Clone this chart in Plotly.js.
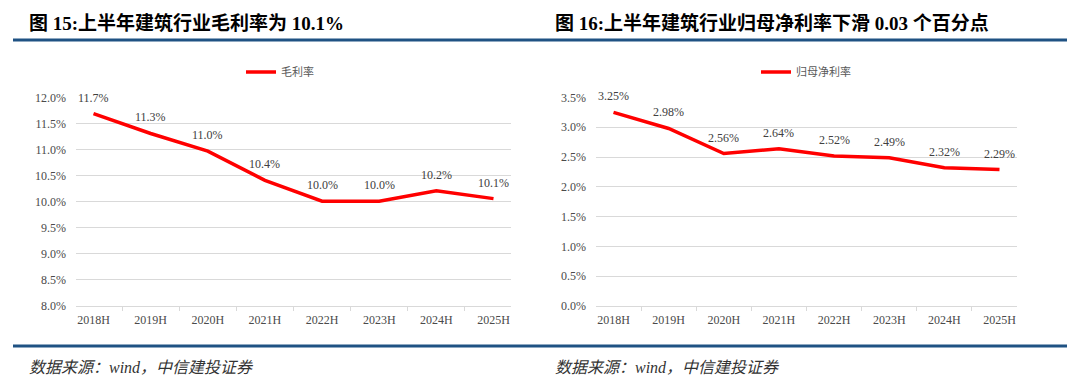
<!DOCTYPE html>
<html>
<head>
<meta charset="utf-8">
<script src="https://cdn.plot.ly/plotly-3.0.1.min.js"></script>
<style>html,body{margin:0;padding:0;background:#fff;}#chart{width:1080px;height:385px;}</style>
</head>
<body>
<div id="chart"></div>
<script>
const categories = ["2018H","2019H","2020H","2021H","2022H","2023H","2024H","2025H"];
const grossMargin = [11.69, 11.31, 10.97, 10.41, 10.01, 10.01, 10.21, 10.06];
const netMargin = [3.25, 2.98, 2.56, 2.64, 2.52, 2.49, 2.32, 2.29];
const seriesNames = ["毛利率", "归母净利率"];
const titles = ["图 15:上半年建筑行业毛利率为 10.1%", "图 16:上半年建筑行业归母净利率下滑 0.03 个百分点"];
const sourceText = "数据来源：wind，中信建投证券";

const W = 1080, H = 385;
const serif = '"Liberation Serif", "Times New Roman", "Noto Sans CJK SC", serif';
const cjk = '"Noto Sans CJK SC", "Liberation Sans", sans-serif';
const gray = '#595959';
const grid = '#d9d9d9';
const blue = '#1F5283';

const yDom = [1 - 306/H, 1 - 97.5/H];

const traces = [
  {x: categories, y: grossMargin, type: 'scatter', mode: 'lines', name: seriesNames[0],
   line: {color: '#FF0000', width: 3.5}, xaxis: 'x', yaxis: 'y', legend: 'legend', hoverinfo: 'none'},
  {x: categories, y: netMargin, type: 'scatter', mode: 'lines', name: seriesNames[1],
   line: {color: '#FF0000', width: 3.5}, xaxis: 'x2', yaxis: 'y2', legend: 'legend2', hoverinfo: 'none'}
];

function xAx(dom, anchor) {
  return {domain: dom, anchor: anchor, type: 'category', showgrid: false, zeroline: false,
    showline: true, linecolor: grid, linewidth: 1, ticks: 'outside', tickson: 'boundaries',
    ticklen: 4, tickcolor: grid, tickwidth: 1, ticklabelstandoff: 3,
    tickfont: {family: serif, size: 12, color: '#4a4a4a'}, fixedrange: true};
}
function yAx(range, anchor) {
  return {domain: yDom, anchor: anchor, range: range, dtick: 0.5, tick0: 0, showgrid: true,
    gridcolor: grid, gridwidth: 1, zeroline: false, showline: false, ticks: '',
    ticksuffix: '%', tickformat: '.1f', ticklabelstandoff: 9,
    tickfont: {family: serif, size: 12, color: '#4a4a4a'}, fixedrange: true};
}

const annotations = [];
grossMargin.forEach((v, i) => annotations.push({x: categories[i], y: v, xref: 'x', yref: 'y',
  text: v.toFixed(1) + '%', showarrow: false, yshift: 16, font: {family: serif, size: 12, color: '#404040'}}));
netMargin.forEach((v, i) => annotations.push({x: categories[i], y: v, xref: 'x2', yref: 'y2',
  text: v.toFixed(2) + '%', showarrow: false, yshift: 16, font: {family: serif, size: 12, color: '#404040'}}));

[27, 553].forEach((px, i) => {
  annotations.push({x: px/W, y: 1 - 23/H, xref: 'paper', yref: 'paper', xanchor: 'left', yanchor: 'middle',
    text: '<b>' + titles[i] + '</b>', showarrow: false, font: {family: serif, size: 19, color: '#000'}});
  annotations.push({x: px/W, y: 1 - 367/H, xref: 'paper', yref: 'paper', xanchor: 'left', yanchor: 'middle',
    text: '<i>' + sourceText + '</i>', showarrow: false, font: {family: serif, size: 16, color: '#333'}});
});

const shapes = [
  {type: 'line', xref: 'paper', yref: 'paper', x0: 13/W, x1: 1067/W, y0: 1 - 40/H, y1: 1 - 40/H, line: {color: blue, width: 3}},
  {type: 'line', xref: 'paper', yref: 'paper', x0: 13/W, x1: 1067/W, y0: 1 - 346/H, y1: 1 - 346/H, line: {color: blue, width: 3}}
];

const legendBase = {orientation: 'h', xanchor: 'center', yanchor: 'middle', y: 1 - 72/H,
  font: {family: cjk, size: 11, color: gray}, bgcolor: 'rgba(0,0,0,0)', itemwidth: 30};

const layout = {
  width: W, height: H, margin: {l: 0, r: 0, t: 0, b: 0},
  paper_bgcolor: '#fff', plot_bgcolor: '#fff', showlegend: true,
  xaxis: xAx([76/W, 511/W], 'y'),
  yaxis: yAx([8, 12], 'x'),
  xaxis2: xAx([596/W, 1017/W], 'y2'),
  yaxis2: yAx([0, 3.5], 'x2'),
  legend: Object.assign({}, legendBase, {x: 280/W}),
  legend2: Object.assign({}, legendBase, {x: 806/W}),
  annotations: annotations, shapes: shapes
};

Plotly.newPlot('chart', traces, layout, {displayModeBar: false, staticPlot: true});
</script>
</body>
</html>
